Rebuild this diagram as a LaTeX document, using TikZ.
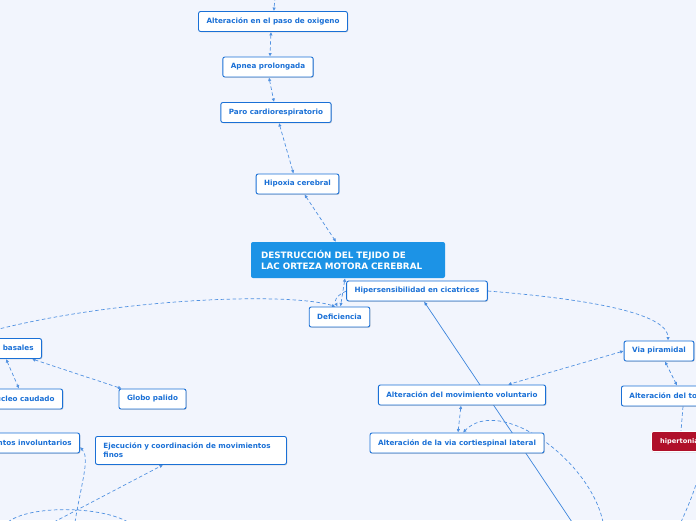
\documentclass[tikz,border=0pt]{standalone}
\usepackage{fontspec}
\setmainfont{DejaVu Sans}
\usetikzlibrary{arrows.meta,positioning,shadows}
\definecolor{mmblue}{RGB}{26,112,214}
\definecolor{mmline}{RGB}{80,145,225}
\definecolor{mmmain}{RGB}{28,147,230}
\definecolor{mmred}{RGB}{176,16,42}
\definecolor{mmbg}{RGB}{242,245,253}
\pgfdeclarelayer{edgelayer}
\pgfsetlayers{edgelayer,main}
\tikzset{
  topic/.style={rectangle,rounded corners=2pt,fill=white,draw=mmblue,
    line width=0.9pt,minimum height=20pt,inner xsep=8pt,inner ysep=3pt,
    font=\fontsize{7.2}{9}\selectfont\bfseries,text=mmblue,
    drop shadow={shadow xshift=0.8pt,shadow yshift=-0.8pt,opacity=0.3}},
  central/.style={rectangle,rounded corners=2pt,fill=mmmain,draw=none,
    minimum width=194pt,minimum height=36pt,text width=174pt,align=left,
    font=\fontsize{8.8}{11.5}\selectfont\bfseries,text=white},
  alert/.style={topic,fill=mmred,draw=white,text=white,inner xsep=6pt,
    font=\fontsize{6.6}{9}\selectfont\bfseries},
  % dashed relations between topics, solid for the direct link
  rel/.style={mmline,line width=0.7pt,dash pattern=on 3.5pt off 2.5pt},
  both/.style={rel,{Latex[length=3.5pt,width=3.5pt]}-{Latex[length=3.5pt,width=3.5pt]}},
  tip/.style={rel,-{Latex[length=3.5pt,width=3.5pt]}},
  link/.style={mmblue!85,line width=0.7pt,-{Latex[length=4pt,width=3.5pt]}}
}

\begin{document}
\begin{tikzpicture}[x=1pt,y=-1pt]
  \begin{pgfonlayer}{edgelayer}
    \fill[mmbg] (0,0) rectangle (696,520);
  \end{pgfonlayer}
  \useasboundingbox (0,0) rectangle (696,520);
  \clip (0,0) rectangle (696,520);

  % upper chain
  \node[topic,minimum width=144pt] (paso) at (273,21.5) {Alteración en el paso de oxigeno};
  \node[topic,minimum width=88pt] (apnea) at (268,67) {Apnea prolongada};
  \node[topic,minimum width=108pt] (paro) at (276,112.5) {Paro cardiorespiratorio};
  \node[topic,minimum width=81pt] (hipoxia) at (297.5,184) {Hipoxia cerebral};
  \node[central] (destr) at (348,260) {DESTRUCCIÓN DEL TEJIDO DE\\LAC ORTEZA MOTORA CEREBRAL};
  \node[topic,minimum width=136pt] (hiper) at (417,291) {Hipersensibilidad en cicatrices};
  \node[topic,minimum width=59pt] (defic) at (339.5,317) {Deficiencia};

  % left branch
  \node[topic,anchor=east] (ganglios) at (42,348.5) {Ganglios basales};
  \node[topic,anchor=east] (nucleo) at (63,399) {Nucleo caudado};
  \node[topic,minimum width=65pt] (globo) at (152.5,399) {Globo palido};
  \node[topic,anchor=east] (involunt) at (80,443) {Movimientos involuntarios};
  \node[topic,anchor=north west,minimum width=191pt,minimum height=28pt,
    text width=175pt,align=left] (ejec) at (95,436)
    {Ejecución y coordinación de movimientos\\finos};

  % right branch
  \node[topic,minimum width=68pt] (via) at (659,351) {Via piramidal};
  \node[topic,anchor=west] (tono) at (621,396) {Alteración del tono muscular};
  \node[alert,anchor=west,minimum width=80pt,align=left] (hipert) at (651,441.5) {hipertonia\hspace{24pt}};
  \node[topic,minimum width=162pt] (movvol) at (462,395) {Alteración del movimiento voluntario};
  \node[topic,minimum width=168pt] (cortesp) at (457,443) {Alteración de la via cortiespinal lateral};

  \coordinate (topin) at (275,-3);
  \coordinate (leftin) at (-5,330);
  \coordinate (linkin) at (572,522);
  \coordinate (arcin) at (603,522);
  \coordinate (hipout) at (681,522);
  \coordinate (invin) at (75,522);
  \coordinate (ejecin) at (54,522);
  \coordinate (loopa) at (8,522);
  \coordinate (loopb) at (128,522);

  \begin{pgfonlayer}{edgelayer}
    \draw[tip] (topin) -- (paso);
    \draw[both] ([xshift=-2pt]paso.south) -- ([xshift=2pt]apnea.north);
    \draw[both] ([xshift=1pt]apnea.south) -- ([xshift=-2pt]paro.north);
    \draw[both] ([xshift=3pt]paro.south) -- ([xshift=-4pt]hipoxia.north);
    \draw[both] ([xshift=7pt]hipoxia.south) -- ([xshift=-12pt]destr.south |- destr.north);
    \draw[both] ([xshift=-3pt]destr.south) -- ([xshift=1pt]defic.north);
    \draw[tip] (hiper.west) .. controls (336,296) and (334,300) .. ([xshift=-2pt]defic.north);
    \draw[tip] (leftin) .. controls (120,298) and (290,292) .. ([xshift=-4pt]defic.north);
    \draw[tip] (hiper.east) .. controls (600,300) and (668,315) .. ([xshift=9pt]via.north);
    \draw[link] (linkin) -- (hiper);
    \draw[both] (via.west) -- ([xshift=46pt]movvol.north);
    \draw[both] ([xshift=6pt]via.south) -- ([xshift=56pt]tono.north west);
    \draw[rel] ([xshift=62pt]tono.south west) -- ([xshift=30pt]hipert.north west);
    \draw[tip] (hipout) .. controls (700,480) and (702,465) .. ([xshift=46pt]hipert.south west);
    \draw[both] ([xshift=-1pt]movvol.south) -- ([xshift=1pt]cortesp.north);
    \draw[tip] (arcin) .. controls (590,460) and (500,395) .. ([xshift=6pt]cortesp.north);
    \draw[both] ([xshift=-36pt]ganglios.south east) -- ([xshift=-44pt]nucleo.north east);
    \draw[both] ([xshift=-10pt]ganglios.south east) -- ([xshift=3pt]globo.north west);
    \draw[tip] (invin) .. controls (82,480) and (90,458) .. ([yshift=-4pt]involunt.east);
    \draw[tip] (ejecin) -- ([xshift=68pt]ejec.south west);
    \draw[rel] (loopa) .. controls (30,505) and (100,506) .. (loopb);
  \end{pgfonlayer}
\end{tikzpicture}
\end{document}
